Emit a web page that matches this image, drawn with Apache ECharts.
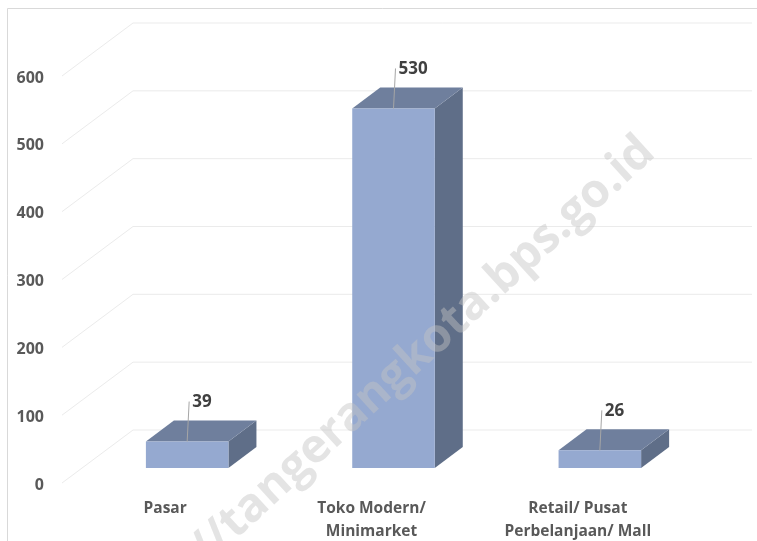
<!DOCTYPE html>
<html>
<head>
<meta charset="utf-8">
<script src="https://cdn.jsdelivr.net/npm/echarts@6/dist/echarts.min.js"></script>
<style>
html,body{margin:0;padding:0;background:#fff;}
#chart{width:757px;height:541px;}
</style>
</head>
<body>
<div id="chart"></div>
<script>
const categories = ['Pasar', 'Toko Modern/\nMinimarket', 'Retail/ Pusat\nPerbelanjaan/ Mall'];
const values = [39, 530, 26];
const yTicks = [0, 100, 200, 300, 400, 500, 600];
const watermark = 'https://tangerangkota.bps.go.id';

// 3D projection constants (pixels)
const WALL = [71, -53];      // front floor edge -> back wall
const BARFRONT = [22, -15];  // front floor edge -> bar front face
const BARDEPTH = [28, -21];  // bar front face -> bar back face

const chart = echarts.init(document.getElementById('chart'), null, {renderer: 'canvas'});

const option = {
  animation: false,
  backgroundColor: '#ffffff',
  grid: {left: 62, right: 76, top: 76, bottom: 58, outerBoundsMode: 'none', containLabel: false},
  xAxis: {
    type: 'category',
    data: categories,
    axisLine: {show: false},
    axisTick: {show: false},
    axisLabel: {
      margin: 14,
      color: '#595959',
      fontFamily: 'Open Sans',
      fontWeight: 'bold',
      fontSize: 15.5,
      lineHeight: 23,
      interval: 0
    }
  },
  yAxis: {
    type: 'value',
    min: 0, max: 600, interval: 100,
    axisLine: {show: false},
    axisTick: {show: false},
    splitLine: {show: false},
    axisLabel: {show: false}
  },
  graphic: [
    {
      type: 'rect', z: -10, silent: true,
      shape: {x: 7.5, y: 8.5, width: 800, height: 600},
      style: {fill: 'none', stroke: '#d9d9d9', lineWidth: 1}
    },
    {
      type: 'text', z: 100, silent: true,
      x: 648, y: 145, rotation: 0.74,
      style: {
        text: watermark,
        fill: 'rgba(195,195,195,0.45)',
        font: 'bold 47px "Open Sans"',
        textAlign: 'right',
        textVerticalAlign: 'middle'
      }
    }
  ],
  series: [
    {
      type: 'custom',
      name: 'grid',
      clip: false,
      silent: true,
      z: 1,
      data: yTicks.map(v => [0, v]),
      renderItem: function (params, api) {
        const val = api.value(1);
        const p = api.coord([0, val]);
        const cs = params.coordSys;
        const x0 = cs.x, y0 = p[1];
        const xb = x0 + WALL[0], yb = y0 + WALL[1];
        const xe = cs.x + cs.width + WALL[0];
        return {
          type: 'group',
          children: [
            {
              type: 'polyline',
              shape: {points: [[x0, y0], [xb, yb], [xe, yb]]},
              style: {stroke: '#ebebeb', lineWidth: 1, fill: null}
            },
            {
              type: 'text',
              x: x0 - 18, y: y0 + 2,
              style: {
                text: String(val),
                fill: '#595959',
                font: 'bold 16px "Open Sans"',
                textAlign: 'right',
                textVerticalAlign: 'middle'
              }
            }
          ]
        };
      }
    },
    {
      type: 'custom',
      name: 'bars',
      clip: false,
      z: 2,
      data: values.map((v, i) => [i, v]),
      renderItem: function (params, api) {
        const i = api.value(0), v = api.value(1);
        const base = api.coord([i, 0]);
        const top = api.coord([i, v]);
        const band = api.size([1, 0])[0];
        const w = band * 0.4;
        const cx = base[0] + BARFRONT[0];
        const fx = cx - w / 2;
        const fy0 = base[1] + BARFRONT[1];
        const fy1 = top[1] + BARFRONT[1];
        const dx = BARDEPTH[0], dy = BARDEPTH[1];
        return {
          type: 'group',
          children: [
            {
              type: 'polygon',
              shape: {points: [[fx + w, fy1], [fx + w + dx, fy1 + dy], [fx + w + dx, fy0 + dy], [fx + w, fy0]]},
              style: {fill: '#5f6e88'}
            },
            {
              type: 'polygon',
              shape: {points: [[fx, fy1], [fx + dx, fy1 + dy], [fx + w + dx, fy1 + dy], [fx + w, fy1]]},
              style: {fill: '#6f7f9d'}
            },
            {
              type: 'rect',
              shape: {x: fx, y: fy1, width: w, height: fy0 - fy1},
              style: {fill: '#95a9d0'}
            },
            {
              type: 'line',
              shape: {x1: cx, y1: fy1, x2: cx + 2, y2: fy1 - 40},
              style: {stroke: '#a6a6a6', lineWidth: 1}
            },
            {
              type: 'text',
              x: cx + 5, y: fy1 - 39,
              style: {
                text: String(v),
                fill: '#404040',
                font: 'bold 17px "Open Sans"',
                textAlign: 'left',
                textVerticalAlign: 'middle'
              }
            }
          ]
        };
      }
    }
  ]
};

chart.setOption(option);
</script>
</body>
</html>
